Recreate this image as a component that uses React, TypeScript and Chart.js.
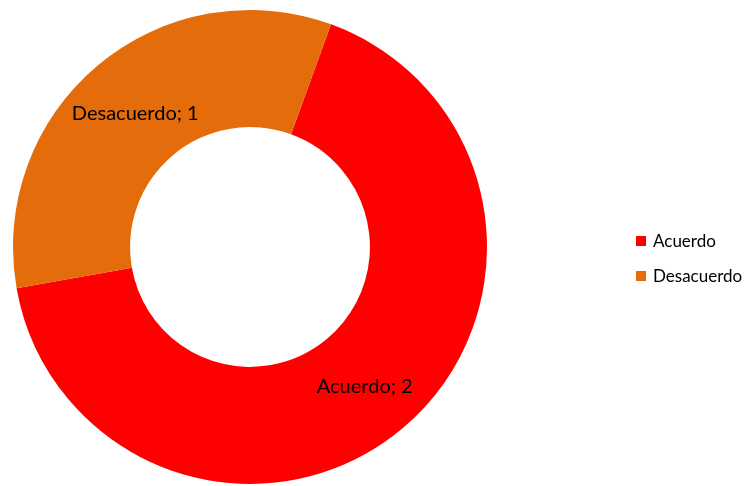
import React, { useEffect, useRef } from "react";
import { Chart, registerables } from "chart.js";

Chart.register(...registerables);

const categories = ["Acuerdo", "Desacuerdo"];
const values = [2, 1];
const colors = ["#FF0000", "#E46C0A"];

const FONT = "Lato, 'Open Sans', sans-serif";

const labelPlugin = {
  id: "sliceLabels",
  afterDatasetsDraw(chart: any) {
    const ctx = chart.ctx;
    const meta = chart.getDatasetMeta(0);
    ctx.save();
    ctx.font = `20px ${FONT}`;
    ctx.fillStyle = "#000000";
    ctx.textAlign = "center";
    ctx.textBaseline = "middle";
    meta.data.forEach((arc: any, i: number) => {
      const p = arc.tooltipPosition();
      ctx.fillText(`${categories[i]}; ${values[i]}`, p.x, p.y + 3);
    });
    ctx.restore();
  },
};

const legendPlugin = {
  id: "sideLegend",
  afterDraw(chart: any) {
    const ctx = chart.ctx;
    ctx.save();
    ctx.font = `17px ${FONT}`;
    ctx.textAlign = "left";
    ctx.textBaseline = "middle";
    categories.forEach((c, i) => {
      const y = 241 + i * 35;
      ctx.fillStyle = colors[i];
      ctx.fillRect(636, y - 5, 10, 10);
      ctx.fillStyle = "#000000";
      ctx.fillText(c, 653, y + 1);
    });
    ctx.restore();
  },
};

export default function App() {
  const ref = useRef<HTMLCanvasElement | null>(null);
  useEffect(() => {
    document.body.style.margin = "0";
    const chart = new Chart(ref.current as HTMLCanvasElement, {
      type: "doughnut",
      data: {
        labels: categories,
        datasets: [
          {
            data: values,
            backgroundColor: colors,
            borderWidth: 0,
          },
        ],
      },
      options: {
        animation: false,
        responsive: false,
        rotation: 20,
        cutout: "50.6%",
        layout: { padding: { left: 13, top: 10, bottom: 2, right: 262 } },
        plugins: {
          legend: { display: false },
          tooltip: { enabled: false },
        },
      },
      plugins: [labelPlugin, legendPlugin],
    });
    return () => chart.destroy();
  }, []);
  return (
    <div style={{ width: 749, height: 486, background: "#fff" }}>
      <canvas ref={ref} width={749} height={486} style={{ display: "block" }} />
    </div>
  );
}
